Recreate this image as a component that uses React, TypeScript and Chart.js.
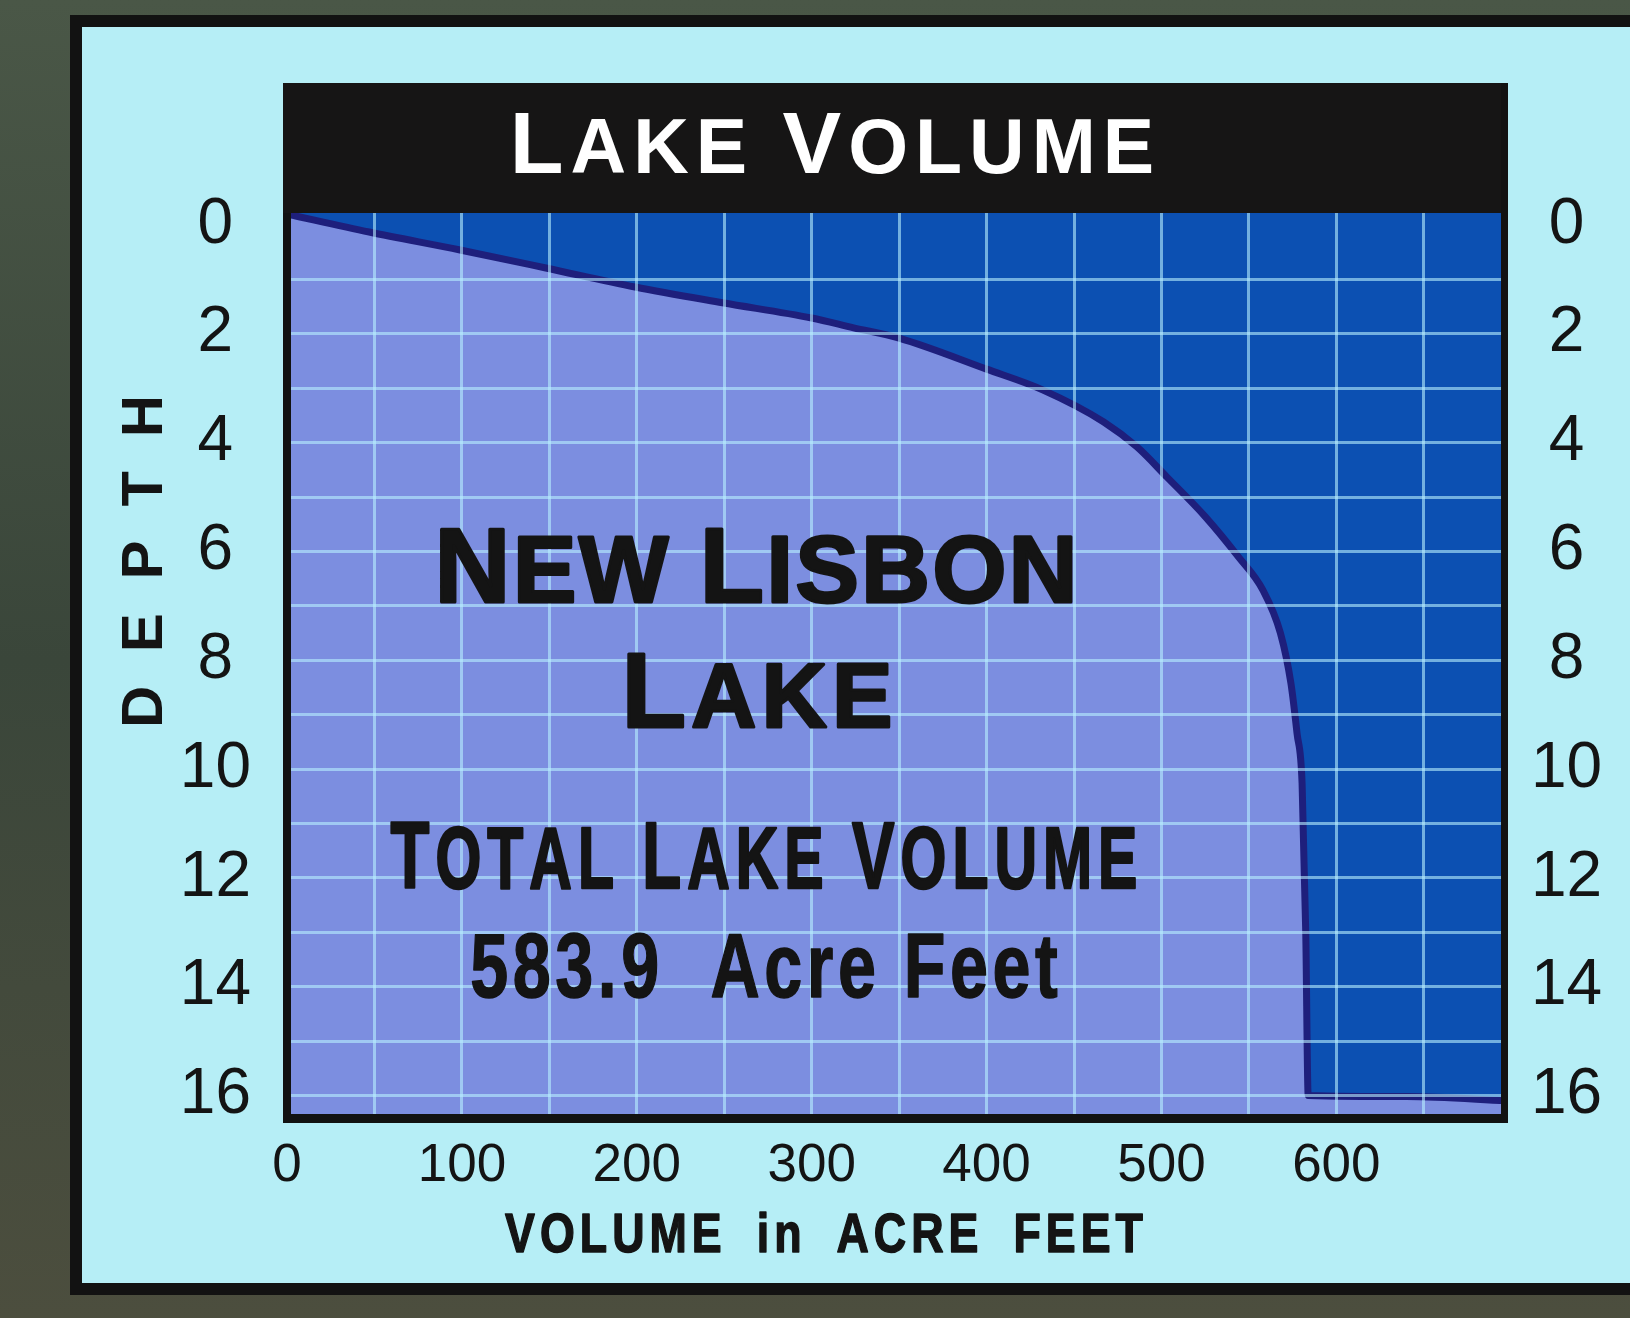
import React, { useEffect, useRef } from 'react';
import { Chart, registerables } from 'chart.js';

Chart.register(...registerables);

// ---- data ----
const volumeAcreFeet = [0, 47, 99, 148, 199, 249, 300, 324, 350, 400, 432, 467, 486, 503, 525, 544, 558, 568, 574, 577.5, 580.4, 582.5, 583.9, 640, 700];
const depthFeet = [-0.2, 0.13, 0.46, 0.79, 1.14, 1.43, 1.71, 1.89, 2.08, 2.65, 3.03, 3.62, 4.08, 4.63, 5.36, 6.1, 6.71, 7.5, 8.42, 9.34, 10.26, 13.0, 16.0, 16.02, 16.1];

const xTickValues = [0, 50, 100, 150, 200, 250, 300, 350, 400, 450, 500, 550, 600, 650];
const xLabeledTicks = [0, 100, 200, 300, 400, 500, 600];
const yTickValues = [0, 1, 2, 3, 4, 5, 6, 7, 8, 9, 10, 11, 12, 13, 14, 15, 16];
const yLabeledTicks = [0, 2, 4, 6, 8, 10, 12, 14, 16];

const chartTitle = 'Lake Volume';
const lakeName = ['New Lisbon', 'Lake'];
const totalLabel = 'Total Lake Volume';
const totalValue = '583.9  Acre Feet';
const xAxisTitle = 'VOLUME in ACRE FEET';
const yAxisTitle = 'DEPTH';

// ---- styling ----
const W = 1630;
const H = 1318;
const AREA = { left: 287, right: 1506, top: 213, bottom: 1114 };
const FAMILY = '"Liberation Sans", Arial, Helvetica, sans-serif';
const PANEL = '#b6eef6';
const LIGHT = '#7c8ee0';
const DARK = '#0c50b2';
const NAVY = '#1e1f7c';
const GRID = 'rgba(185,240,255,0.6)';
const INK = '#141414';

type Seg = [string, number];
type TextOpts = { weight: string; color: string; sx?: number; ls?: number; ws?: number; stroke?: number };

function drawCaps(ctx: CanvasRenderingContext2D, segs: Seg[], cx: number, baseline: number, o: TextOpts) {
  const sx = o.sx ?? 1;
  const ls = o.ls ?? 0;
  const items: { ch: string; font: string; w: number }[] = [];
  for (const [t, size] of segs) {
    const font = `${o.weight} ${size}px ${FAMILY}`;
    ctx.font = font;
    for (const ch of t) {
      const w = ch === ' ' && o.ws != null ? o.ws : ctx.measureText(ch).width * sx;
      items.push({ ch, font, w });
    }
  }
  const total = items.reduce((a, b) => a + b.w, 0) + ls * (items.length - 1);
  let x = cx - total / 2;
  ctx.save();
  ctx.fillStyle = o.color;
  ctx.strokeStyle = o.color;
  ctx.lineJoin = 'round';
  ctx.textAlign = 'left';
  ctx.textBaseline = 'alphabetic';
  for (const it of items) {
    if (it.ch !== ' ') {
      ctx.save();
      ctx.translate(x, baseline);
      ctx.scale(sx, 1);
      ctx.font = it.font;
      ctx.fillText(it.ch, 0, 0);
      if (o.stroke) {
        ctx.lineWidth = o.stroke;
        ctx.strokeText(it.ch, 0, 0);
      }
      ctx.restore();
    }
    x += it.w + ls;
  }
  ctx.restore();
}

function smallCaps(text: string, big: number, small: number): Seg[] {
  const segs: Seg[] = [];
  for (const word of text.split(' ')) {
    if (segs.length) segs.push([' ', small]);
    segs.push([word[0].toUpperCase(), big]);
    if (word.length > 1) segs.push([word.slice(1).toUpperCase(), small]);
  }
  return segs;
}

const decorPlugin = {
  id: 'decor',
  beforeDraw(chart: any) {
    const ctx: CanvasRenderingContext2D = chart.ctx;
    const a = chart.chartArea;
    ctx.save();
    const g = ctx.createLinearGradient(0, 0, 0, H);
    g.addColorStop(0, '#4a5747');
    g.addColorStop(0.5, '#3a463a');
    g.addColorStop(1, '#4c4e3e');
    ctx.fillStyle = g;
    ctx.fillRect(0, 0, W, H);
    ctx.fillStyle = '#121212';
    ctx.fillRect(70, 15, W - 70, 1280);
    ctx.fillStyle = PANEL;
    ctx.fillRect(82, 27, W - 82, 1256);
    // header box
    ctx.fillStyle = '#161515';
    ctx.fillRect(283, 83, 1508 - 283, a.top - 83);
    // plot background (water above the curve)
    ctx.fillStyle = DARK;
    ctx.fillRect(a.left, a.top, a.right - a.left, a.bottom - a.top);
    ctx.restore();
  },
  afterDraw(chart: any) {
    const ctx: CanvasRenderingContext2D = chart.ctx;
    const a = chart.chartArea;
    ctx.save();
    ctx.fillStyle = '#121212';
    ctx.fillRect(283, a.top, 8, a.bottom + 9 - a.top);
    ctx.fillRect(283, a.bottom, 1508 - 283, 9);
    ctx.fillRect(1501, 83, 7, a.bottom + 9 - 83);
    ctx.restore();

    drawCaps(ctx, smallCaps(chartTitle, 88, 77), 832, 173, { weight: 'bold', color: '#ffffff', ls: 7 });
    drawCaps(ctx, smallCaps(lakeName[0], 105, 95), 756, 602, { weight: 'bold', color: INK, ls: 2.5, stroke: 3 });
    drawCaps(ctx, smallCaps(lakeName[1], 105, 90), 757, 727, { weight: 'bold', color: INK, ls: 5.5, stroke: 3 });
    drawCaps(ctx, smallCaps(totalLabel, 95, 88), 764, 888, { weight: 'bold', color: INK, sx: 0.67, ls: 6, stroke: 2.5 });
    drawCaps(ctx, [[totalValue, 91]], 764, 997, { weight: 'bold', color: INK, sx: 0.75, ls: 4.5, stroke: 1.5 });
    drawCaps(ctx, [[xAxisTitle, 56]], 824, 1252, { weight: 'bold', color: INK, sx: 0.8, ls: 5, ws: 25, stroke: 1.5 });

    ctx.save();
    ctx.translate(141, 561.5);
    ctx.rotate(-Math.PI / 2);
    drawCaps(ctx, [[yAxisTitle, 58]], 0, 21, { weight: 'bold', color: INK, ls: 34 });
    ctx.restore();
  },
};

export default function App() {
  const ref = useRef<HTMLCanvasElement | null>(null);

  useEffect(() => {
    const canvas = ref.current;
    if (!canvas) return;
    const points = volumeAcreFeet.map((v, i) => ({ x: v, y: depthFeet[i] }));
    const yTickFont = { family: FAMILY, size: 64, weight: 'normal' as const };
    const yScaleBase = {
      type: 'linear' as const,
      reverse: true,
      min: -0.22,
      max: 16.34,
      afterBuildTicks: (s: any) => {
        s.ticks = yTickValues.map((v) => ({ value: v }));
      },
      border: { display: false },
      ticks: {
        autoSkip: false,
        crossAlign: 'center' as const,
        color: INK,
        font: yTickFont,
        callback: (v: any) => (yLabeledTicks.includes(Number(v)) ? String(v) : ''),
      },
    };

    const chart = new Chart(canvas, {
      type: 'line',
      data: {
        datasets: [
          {
            label: 'Lake volume',
            data: points,
            fill: 'start',
            backgroundColor: LIGHT,
            borderColor: NAVY,
            borderWidth: 7,
            pointRadius: 0,
            cubicInterpolationMode: 'monotone',
          },
        ],
      },
      options: {
        responsive: false,
        maintainAspectRatio: false,
        devicePixelRatio: 1,
        animation: false,
        layout: { padding: { top: AREA.top, left: 0, right: 0, bottom: 0 } },
        plugins: { legend: { display: false }, tooltip: { enabled: false }, title: { display: false } },
        scales: {
          x: {
            type: 'linear',
            position: 'bottom',
            min: 0,
            max: 697,
            afterBuildTicks: (s: any) => {
              s.ticks = xTickValues.filter((v) => v <= s.max).map((v) => ({ value: v }));
            },
            afterFit: (s: any) => {
              s.height = H - AREA.bottom;
            },
            border: { display: false },
            grid: {
              z: 1,
              drawTicks: false,
              lineWidth: 3,
              color: (c: any) => (c.tick && c.tick.value === 0 ? 'rgba(0,0,0,0)' : GRID),
            },
            ticks: {
              autoSkip: false,
              maxRotation: 0,
              minRotation: 0,
              padding: 21,
              color: INK,
              font: { family: FAMILY, size: 53, weight: 'normal' },
              callback: (v: any) => (xLabeledTicks.includes(Number(v)) ? String(v) : ''),
            },
          },
          y: {
            ...yScaleBase,
            position: 'left',
            afterFit: (s: any) => {
              s.width = AREA.left;
            },
            grid: {
              z: 1,
              drawTicks: false,
              lineWidth: 3,
              color: (c: any) => (c.tick && c.tick.value === 0 ? 'rgba(0,0,0,0)' : GRID),
            },
            ticks: { ...yScaleBase.ticks, padding: 36 },
          },
          y2: {
            ...yScaleBase,
            position: 'right',
            afterFit: (s: any) => {
              s.width = W - AREA.right;
            },
            grid: { display: false, drawTicks: false },
            ticks: { ...yScaleBase.ticks, padding: 25 },
          },
        },
      } as any,
      plugins: [decorPlugin],
    });
    return () => chart.destroy();
  }, []);

  return (
    <div style={{ position: 'absolute', left: 0, top: 0, width: W, height: H }}>
      <canvas ref={ref} width={W} height={H} style={{ display: 'block', width: W, height: H }} />
    </div>
  );
}
